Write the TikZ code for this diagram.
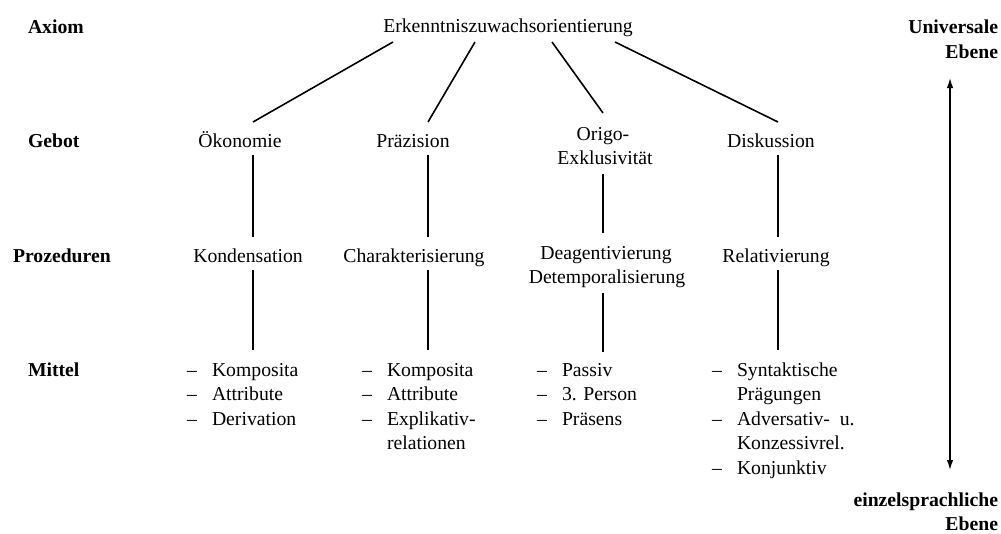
\documentclass[tikz,border=0pt]{standalone}
\usepackage{fontspec}
\setmainfont{Liberation Serif}[Ligatures=TeX]
\usetikzlibrary{arrows.meta}
\begin{document}
\begin{tikzpicture}[x=1pt,y=-1pt,
  every node/.style={inner sep=0pt, outer sep=0pt, font=\rmfamily\fontsize{19.7}{24}\selectfont},
  lvl/.style={anchor=base west, font=\rmfamily\fontsize{19.7}{24}\selectfont\bfseries},
  side/.style={anchor=base east, font=\rmfamily\fontsize{19.7}{24}\selectfont\bfseries},
  term/.style={anchor=base},
  item/.style={anchor=base west},
  conn/.style={line width=1.6pt, line cap=butt},
  scalearrow/.style={line width=1.4pt, {Latex[length=10pt,width=6.5pt]}-{Latex[length=10pt,width=6.5pt]}}
]
\useasboundingbox (0,0) rectangle (1001,533);

% level labels
\node[lvl] (axiom) at (28,33) {Axiom};
\node[lvl] (gebot) at (28,147) {Gebot};
\node[lvl] (proz) at (13,262) {Prozeduren};
\node[lvl] (mittel) at (28,376) {Mittel};

% right side
\node[side] (univ1) at (998,33) {Universale};
\node[side] (univ2) at (998,58) {Ebene};
\node[side] (einz1) at (998,506) {einzelsprachliche};
\node[side] (einz2) at (998,530) {Ebene};
\coordinate (arrtop) at (950,78);
\coordinate (arrbot) at (950,470);
\draw[scalearrow] (arrbot) -- (arrtop);

% top
\node[term] (ero) at (508,32) {Erkenntniszuwachsorientierung};

% Gebote
\node[term] (oek) at (240,147) {Ökonomie};
\node[term] (prae) at (413,147) {Präzision};
\node[term] (origo) at (603,140) {Origo-};
\node[term] (origo2) at (605,164) {Exklusivität};
\node[term] (disk) at (771,147) {Diskussion};

% Prozeduren
\node[term] (kond) at (248,262) {Kondensation};
\node[term] (char) at (414,262) {Charakterisierung};
\node[term] (deag) at (606,259) {Deagentivierung};
\node[term] (detemp) at (607,283) {Detemporalisierung};
\node[term] (rel) at (776,262) {Relativierung};

% Mittel
\newcommand{\dashitem}[1]{\makebox[25pt][l]{\textendash}#1}
\node[item] (m1a) at (187,376) {\dashitem{Komposita}};
\node[item] (m1b) at (187,400.5) {\dashitem{Attribute}};
\node[item] (m1c) at (187,425) {\dashitem{Derivation}};

\node[item] (m2a) at (362,376) {\dashitem{Komposita}};
\node[item] (m2b) at (362,400.5) {\dashitem{Attribute}};
\node[item] (m2c) at (362,425) {\dashitem{Explikativ-}};
\node[item] (m2d) at (387,449.5) {relationen};

\node[item] (m3a) at (537,376) {\dashitem{Passiv}};
\node[item] (m3b) at (537,400.5) {\dashitem{3. Person}};
\node[item] (m3c) at (537,425) {\dashitem{Präsens}};

\node[item] (m4a) at (712,376) {\dashitem{Syntaktische}};
\node[item] (m4b) at (737,400.5) {Prägungen};
\node[item] (m4c) at (712,425) {\dashitem{Adversativ-\ \ u.}};
\node[item] (m4d) at (737,449.5) {Konzessivrel.};
\node[item] (m4e) at (712,474) {\dashitem{Konjunktiv}};

% connector end points
\coordinate (e1) at (393,42);
\coordinate (e2) at (475,42);
\coordinate (e3) at (552,42);
\coordinate (e4) at (615,42);
\coordinate (g1) at (253,122);
\coordinate (g2) at (428,122);
\coordinate (g3) at (603,113);
\coordinate (g4) at (778,122);

\coordinate (g1b) at (253,155);
\coordinate (g2b) at (428,155);
\coordinate (g3b) at (603,174);
\coordinate (g4b) at (778,155);
\coordinate (p1t) at (253,237);
\coordinate (p2t) at (428,237);
\coordinate (p3t) at (603,233);
\coordinate (p4t) at (778,237);

\coordinate (p1b) at (253,270);
\coordinate (p2b) at (428,270);
\coordinate (p3b) at (603,293);
\coordinate (p4b) at (778,270);
\coordinate (m1t) at (253,350);
\coordinate (m2t) at (428,350);
\coordinate (m3t) at (603,352);
\coordinate (m4t) at (778,350);

\draw[conn] (e1) -- (g1);
\draw[conn] (e2) -- (g2);
\draw[conn] (e3) -- (g3);
\draw[conn] (e4) -- (g4);
\draw[conn] (g1b) -- (p1t);
\draw[conn] (g2b) -- (p2t);
\draw[conn] (g3b) -- (p3t);
\draw[conn] (g4b) -- (p4t);
\draw[conn] (p1b) -- (m1t);
\draw[conn] (p2b) -- (m2t);
\draw[conn] (p3b) -- (m3t);
\draw[conn] (p4b) -- (m4t);
\end{tikzpicture}
\end{document}
